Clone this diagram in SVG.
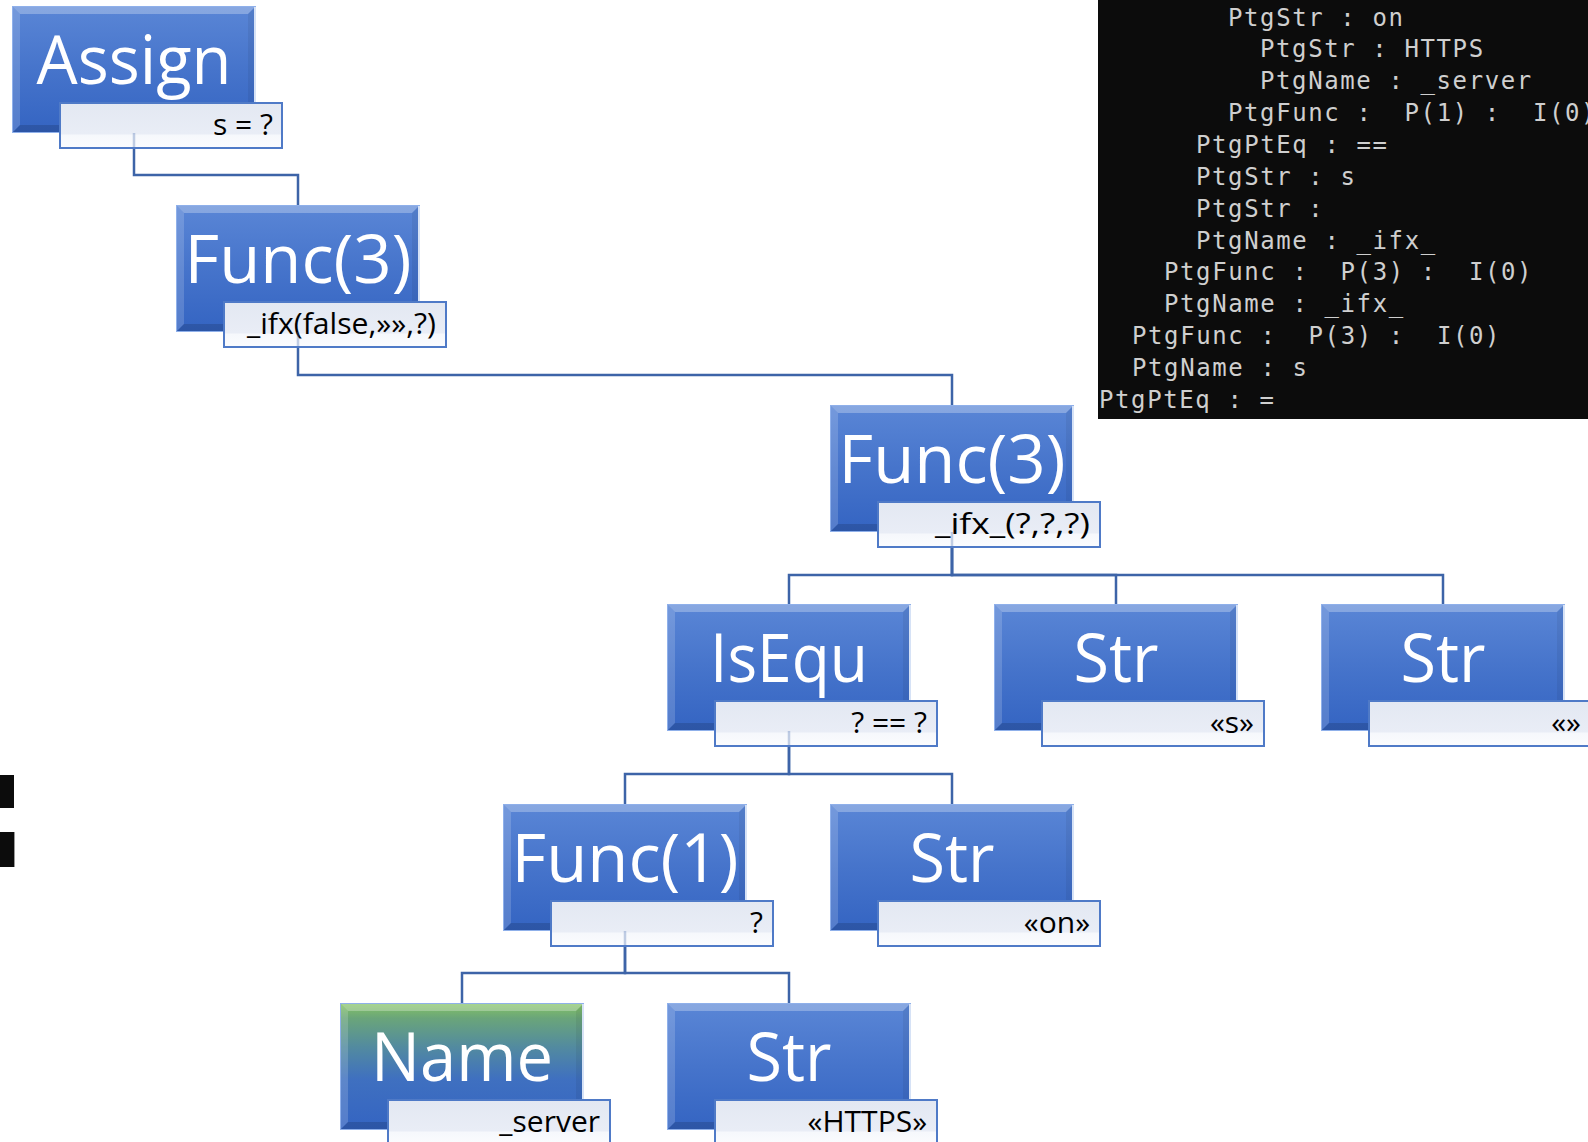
<svg xmlns="http://www.w3.org/2000/svg" xmlns:xlink="http://www.w3.org/1999/xlink" width="1588" height="1142" viewBox="0 0 1588 1142">
<style>
.title{font-family:"Open Sans","Noto Sans","DejaVu Sans",sans-serif;font-size:67px;fill:#ffffff;text-anchor:middle}
.lab{font-family:"Open Sans","Noto Sans","DejaVu Sans",sans-serif;font-size:30px;fill:#000000;text-anchor:end}
.con{fill:none;stroke:#3d64a8;stroke-width:2.5}
.ghost{fill:none;stroke:#3d64a8;stroke-width:2.5;opacity:0.3}
.term{font-family:"DejaVu Sans Mono","Liberation Mono",monospace;font-size:24px;letter-spacing:1.6px;fill:#cfcfcf;white-space:pre}
</style>
<defs>
<linearGradient id="gBlue" x1="0" y1="0" x2="0" y2="1">
<stop offset="0" stop-color="#5a86d6"/>
<stop offset="0.5" stop-color="#4674cb"/>
<stop offset="1" stop-color="#3464c2"/>
</linearGradient>
<linearGradient id="gGreen" x1="0" y1="0" x2="0" y2="1">
<stop offset="0" stop-color="#86c464"/>
<stop offset="0.12" stop-color="#6aa57a"/>
<stop offset="0.35" stop-color="#528aa0"/>
<stop offset="0.6" stop-color="#3f70c0"/>
<stop offset="1" stop-color="#3464c2"/>
</linearGradient>
<linearGradient id="gLab" x1="0" y1="0" x2="0" y2="1">
<stop offset="0" stop-color="#e3e8f2"/>
<stop offset="0.68" stop-color="#e9edf6"/>
<stop offset="0.72" stop-color="#f6f8fc"/>
<stop offset="1" stop-color="#fbfcfe"/>
</linearGradient>
<g id="box">
<rect width="244" height="127"/>
<polygon points="0,0 244,0 236,8 8,8" fill="#ffffff" opacity="0.28"/>
<polygon points="0,0 8,8 8,119 0,127" fill="#ffffff" opacity="0.16"/>
<polygon points="244,0 244,127 236,119 236,8" fill="#000000" opacity="0.06"/>
<polygon points="0,127 8,119 236,119 244,127" fill="#000000" opacity="0.14"/>
<rect x="0.5" y="0.5" width="243" height="126" fill="none" stroke="#8fb0ea" stroke-width="1"/>
<line x1="243" y1="1" x2="243" y2="126" stroke="#d6e2f6" stroke-width="2"/>
</g>
<g id="lab">
<rect x="0" y="0" width="222" height="45" fill="url(#gLab)" stroke="#4f7ac7" stroke-width="2"/>
</g>
</defs>
<rect width="1588" height="1142" fill="#ffffff"/>

<g id="terminal">
<rect x="1098" y="0" width="490" height="419" fill="#0c0c0c"/>
<text class="term" xml:space="preserve" x="1228" y="25.5">PtgStr : on</text>
<text class="term" xml:space="preserve" x="1260" y="57.4">PtgStr : HTTPS</text>
<text class="term" xml:space="preserve" x="1260" y="89.2">PtgName : _server</text>
<text class="term" xml:space="preserve" x="1228" y="121.1">PtgFunc :  P(1) :  I(0)</text>
<text class="term" xml:space="preserve" x="1196" y="152.9">PtgPtEq : ==</text>
<text class="term" xml:space="preserve" x="1196" y="184.8">PtgStr : s</text>
<text class="term" xml:space="preserve" x="1196" y="216.7">PtgStr :</text>
<text class="term" xml:space="preserve" x="1196" y="248.5">PtgName : _ifx_</text>
<text class="term" xml:space="preserve" x="1164" y="280.4">PtgFunc :  P(3) :  I(0)</text>
<text class="term" xml:space="preserve" x="1164" y="312.2">PtgName : _ifx_</text>
<text class="term" xml:space="preserve" x="1132" y="344.1">PtgFunc :  P(3) :  I(0)</text>
<text class="term" xml:space="preserve" x="1132" y="375.9">PtgName : s</text>
<text class="term" xml:space="preserve" x="1099" y="407.8">PtgPtEq : =</text>
</g>

<g id="bars">
<rect x="0" y="775" width="14" height="33" fill="#0c0c0c"/>
<rect x="0" y="832" width="14" height="35" fill="#0c0c0c"/>
<rect x="14" y="832" width="1" height="35" fill="#9a9a9a"/>
</g>

<g id="connectors">
<path class="con" d="M134 133 V175 H298 V205"/>
<path class="con" d="M298 332 V375 H952 V405"/>
<path class="con" d="M952 532 V575 H789 V604"/>
<path class="con" d="M952 532 V575 H1116 V604"/>
<path class="con" d="M952 532 V575 H1443 V604"/>
<path class="con" d="M789 731 V774 H625 V804"/>
<path class="con" d="M789 731 V774 H952 V804"/>
<path class="con" d="M625 931 V973 H462 V1003"/>
<path class="con" d="M625 931 V973 H789 V1003"/>
</g>

<g id="n-assign">
<use xlink:href="#box" x="12" y="6" fill="url(#gBlue)"/>
<text class="title" x="134" y="84" textLength="195" lengthAdjust="spacingAndGlyphs">Assign</text>
<use xlink:href="#lab" x="60" y="103"/>
<text class="lab" x="273" y="135">s = ?</text>
</g>

<g id="n-func3a">
<use xlink:href="#box" x="176" y="205" fill="url(#gBlue)"/>
<text class="title" x="298" y="283" textLength="227" lengthAdjust="spacingAndGlyphs">Func(3)</text>
<use xlink:href="#lab" x="224" y="302"/>
<text class="lab" x="436" y="334" textLength="189" lengthAdjust="spacingAndGlyphs">_ifx(false,»»,?)</text>
</g>

<g id="n-func3b">
<use xlink:href="#box" x="830" y="405" fill="url(#gBlue)"/>
<text class="title" x="952" y="483" textLength="227" lengthAdjust="spacingAndGlyphs">Func(3)</text>
<use xlink:href="#lab" x="878" y="502"/>
<text class="lab" x="1090" y="534" textLength="155" lengthAdjust="spacingAndGlyphs">_ifx_(?,?,?)</text>
</g>

<g id="n-isequ">
<use xlink:href="#box" x="667" y="604" fill="url(#gBlue)"/>
<text class="title" x="789" y="682" textLength="158" lengthAdjust="spacingAndGlyphs">IsEqu</text>
<use xlink:href="#lab" x="715" y="701"/>
<text class="lab" x="927" y="733">? == ?</text>
</g>

<g id="n-str-s">
<use xlink:href="#box" x="994" y="604" fill="url(#gBlue)"/>
<text class="title" x="1116" y="682" textLength="85" lengthAdjust="spacingAndGlyphs">Str</text>
<use xlink:href="#lab" x="1042" y="701"/>
<text class="lab" x="1254" y="733">«s»</text>
</g>

<g id="n-str-empty">
<use xlink:href="#box" x="1321" y="604" fill="url(#gBlue)"/>
<text class="title" x="1443" y="682" textLength="85" lengthAdjust="spacingAndGlyphs">Str</text>
<use xlink:href="#lab" x="1369" y="701"/>
<text class="lab" x="1581" y="733">«»</text>
</g>

<g id="n-func1">
<use xlink:href="#box" x="503" y="804" fill="url(#gBlue)"/>
<text class="title" x="625" y="882" textLength="227" lengthAdjust="spacingAndGlyphs">Func(1)</text>
<use xlink:href="#lab" x="551" y="901"/>
<text class="lab" x="763" y="933">?</text>
</g>

<g id="n-str-on">
<use xlink:href="#box" x="830" y="804" fill="url(#gBlue)"/>
<text class="title" x="952" y="882" textLength="85" lengthAdjust="spacingAndGlyphs">Str</text>
<use xlink:href="#lab" x="878" y="901"/>
<text class="lab" x="1090" y="933">«on»</text>
</g>

<g id="n-name">
<use xlink:href="#box" x="340" y="1003" fill="url(#gGreen)"/>
<text class="title" x="462" y="1081" textLength="182" lengthAdjust="spacingAndGlyphs">Name</text>
<use xlink:href="#lab" x="388" y="1100"/>
<text class="lab" x="600" y="1132">_server</text>
</g>

<g id="n-str-https">
<use xlink:href="#box" x="667" y="1003" fill="url(#gBlue)"/>
<text class="title" x="789" y="1081" textLength="85" lengthAdjust="spacingAndGlyphs">Str</text>
<use xlink:href="#lab" x="715" y="1100"/>
<text class="lab" x="927" y="1132">«HTTPS»</text>
</g>

<g id="connector-ghosts">
<path class="ghost" d="M134 133 V147"/>
<path class="ghost" d="M298 332 V346"/>
<path class="ghost" d="M952 532 V546"/>
<path class="ghost" d="M789 731 V745"/>
<path class="ghost" d="M625 931 V945"/>
</g>
</svg>
